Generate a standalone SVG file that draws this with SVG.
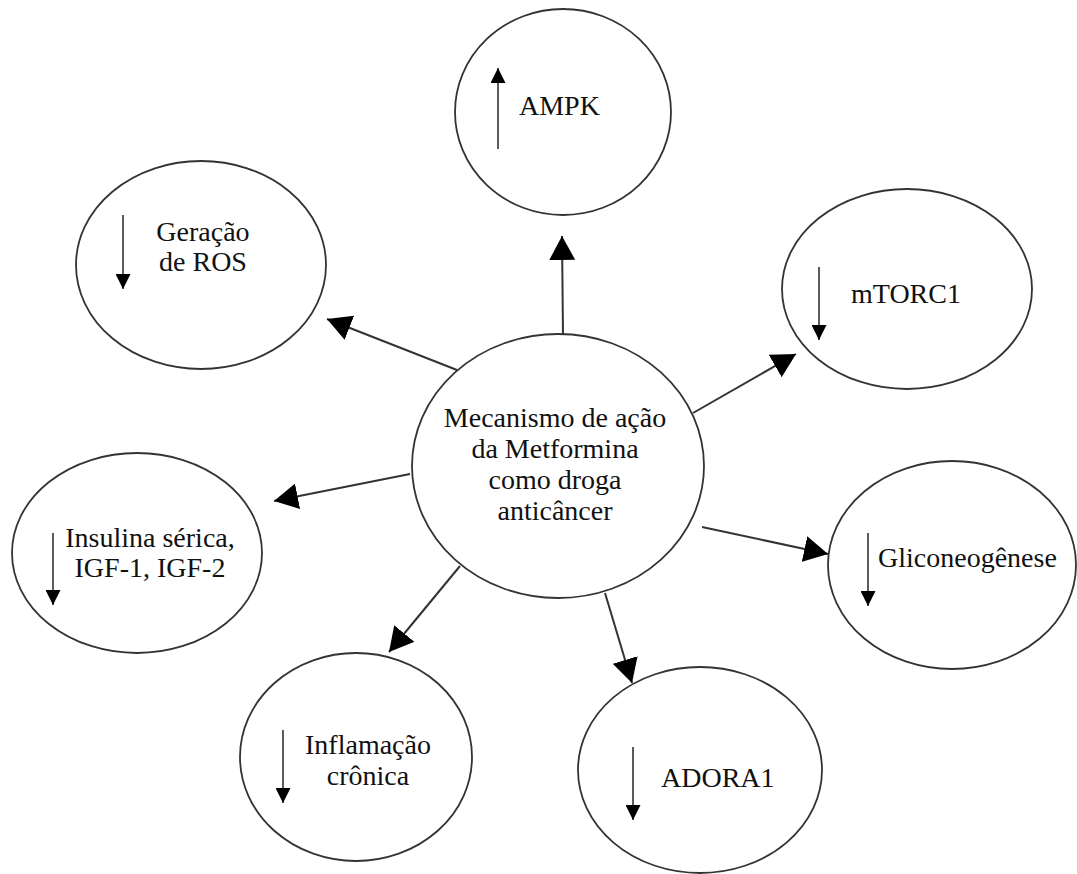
<svg xmlns="http://www.w3.org/2000/svg" width="1077" height="874" viewBox="0 0 1077 874">
<defs>
<style>
.node ellipse{fill:#fff;stroke:#333;stroke-width:1.8}
text{font-family:"Liberation Serif","Times New Roman",serif;font-size:28px;fill:#111}
.conn line{stroke:#333;stroke-width:2}
.in{stroke:#333;stroke-width:1.6}
</style>
<marker id="big" markerUnits="userSpaceOnUse" markerWidth="24" markerHeight="26" refX="24" refY="13" orient="auto">
<path d="M0,0 L24,13 L0,26 z" fill="#000"/>
</marker>
<marker id="small" markerUnits="userSpaceOnUse" markerWidth="15" markerHeight="15" refX="15" refY="7.5" orient="auto">
<path d="M0,0 L15,7.5 L0,15 z" fill="#000"/>
</marker>
</defs>
<rect width="1077" height="874" fill="#fff"/>
<g class="conn" id="connectors">
<line x1="563" y1="335" x2="562" y2="236" marker-end="url(#big)"/>
<line x1="457" y1="370" x2="327" y2="319" marker-end="url(#big)"/>
<line x1="693" y1="413" x2="796" y2="354" marker-end="url(#big)"/>
<line x1="410" y1="474" x2="274" y2="501" marker-end="url(#big)"/>
<line x1="702" y1="527" x2="828" y2="554" marker-end="url(#big)"/>
<line x1="605" y1="593" x2="632" y2="683" marker-end="url(#big)"/>
<line x1="460" y1="566" x2="389" y2="652" marker-end="url(#big)"/>
</g>
<g class="node" id="center">
<ellipse cx="558" cy="466" rx="146" ry="132"/>
<text x="555" y="427" text-anchor="middle">Mecanismo de ação</text>
<text x="555" y="458" text-anchor="middle">da Metformina</text>
<text x="555" y="489" text-anchor="middle">como droga</text>
<text x="555" y="520" text-anchor="middle">anticâncer</text>
</g>
<g class="node" id="ampk">
<ellipse cx="563" cy="112" rx="108" ry="103"/>
<line class="in" x1="498" y1="149" x2="498" y2="68" marker-end="url(#small)"/>
<text x="519" y="115">AMPK</text>
</g>
<g class="node" id="ros">
<ellipse cx="201" cy="265" rx="125" ry="104"/>
<line class="in" x1="123" y1="215" x2="123" y2="289" marker-end="url(#small)"/>
<text x="203" y="241" text-anchor="middle">Geração</text>
<text x="203" y="271" text-anchor="middle">de ROS</text>
</g>
<g class="node" id="mtorc1">
<ellipse cx="907" cy="289" rx="125" ry="100"/>
<line class="in" x1="819" y1="267" x2="819" y2="340" marker-end="url(#small)"/>
<text x="851" y="303">mTORC1</text>
</g>
<g class="node" id="insulina">
<ellipse cx="137" cy="553" rx="125" ry="100"/>
<line class="in" x1="53" y1="533" x2="53" y2="605" marker-end="url(#small)"/>
<text x="150" y="547" text-anchor="middle">Insulina sérica,</text>
<text x="150" y="577" text-anchor="middle">IGF-1, IGF-2</text>
</g>
<g class="node" id="glico">
<ellipse cx="952" cy="565" rx="124" ry="104"/>
<line class="in" x1="868" y1="533" x2="868" y2="606" marker-end="url(#small)"/>
<text x="878" y="567">Gliconeogênese</text>
</g>
<g class="node" id="inflamacao">
<ellipse cx="356" cy="757" rx="116" ry="104"/>
<line class="in" x1="283" y1="730" x2="283" y2="803" marker-end="url(#small)"/>
<text x="368" y="754" text-anchor="middle">Inflamação</text>
<text x="368" y="785" text-anchor="middle">crônica</text>
</g>
<g class="node" id="adora1">
<ellipse cx="700" cy="770" rx="122" ry="103"/>
<line class="in" x1="633" y1="747" x2="633" y2="820" marker-end="url(#small)"/>
<text x="661" y="787">ADORA1</text>
</g>
</svg>
